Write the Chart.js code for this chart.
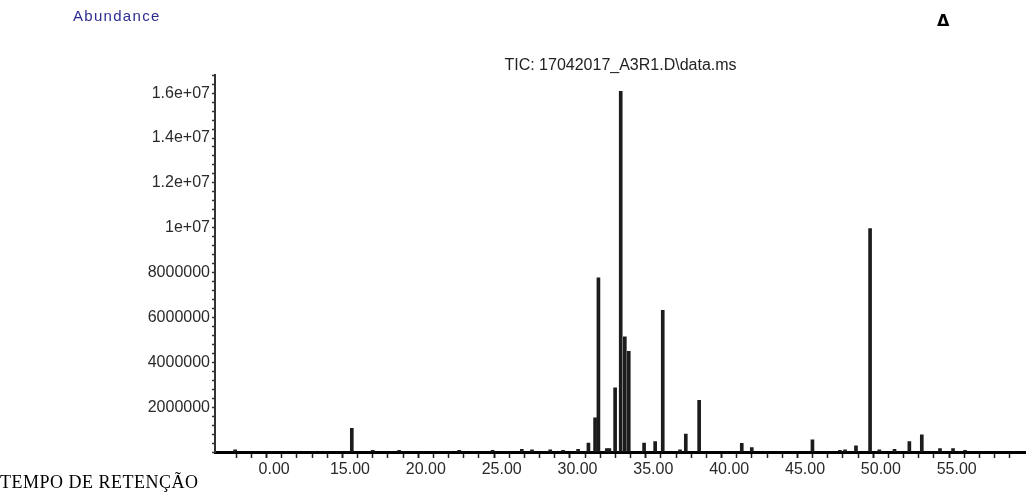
<!DOCTYPE html>
<html>
<head>
<meta charset="utf-8">
<script src="https://cdn.jsdelivr.net/npm/chart.js@4"></script>
<style>
    body { margin: 0; background: #fff; }
    #wrap { position: relative; width: 1026px; height: 497px; }
    #myChart { display: block; }
    .note { position: absolute; white-space: nowrap; }
    #abundance { left: 73px; top: 7px; font: 15px 'Liberation Sans', Arial, sans-serif; color: #2d2d90; letter-spacing: 1.3px; }
    #delta { left: 937px; top: 11px; font: bold 16px 'DejaVu Sans', sans-serif; color: #000; }
    #tempo { left: 0px; top: 472px; font: 18px 'Liberation Serif', 'Times New Roman', serif; color: #000; letter-spacing: 0.5px; }
</style>
</head>
<body>
<div id="wrap">
    <canvas id="myChart" width="1026" height="497"></canvas>
    <div class="note" id="abundance">Abundance</div>
    <div class="note" id="delta">Δ</div>
    <div class="note" id="tempo">TEMPO DE RETENÇÃO</div>
</div>
<script>
// retention time (min) of each peak and its abundance
const peakTimes = [
    7.43, 15.12, 16.5, 18.24, 22.2, 24.4, 26.33, 27.0, 28.2, 29.05,
    30.04, 30.72, 31.16, 31.38, 31.93, 32.1, 32.48, 32.85, 33.12, 33.38,
    34.39, 35.12, 35.62, 36.76, 37.14, 38.02, 40.83, 41.49, 45.49, 47.3,
    47.64, 48.36, 49.29, 49.9, 50.9, 51.88, 52.7, 53.9, 54.76, 55.55
];
const peakHeights = [
    100000, 1050000, 80000, 80000, 80000, 80000, 120000, 100000, 100000, 80000,
    120000, 400000, 1520000, 7770000, 150000, 150000, 2860000, 16080000, 5140000, 4490000,
    400000, 460000, 6320000, 100000, 800000, 2300000, 390000, 200000, 540000, 80000,
    100000, 270000, 9960000, 100000, 120000, 460000, 760000, 150000, 150000, 80000
];

const xTickValues = [10, 15, 20, 25, 30, 35, 40, 45, 50, 55];
const xTickLabels = ['0.00', '15.00', '20.00', '25.00', '30.00', '35.00', '40.00', '45.00', '50.00', '55.00'];
const yTickValues = [2000000, 4000000, 6000000, 8000000, 10000000, 12000000, 14000000, 16000000];
const yTickLabels = ['2000000', '4000000', '6000000', '8000000', '1e+07', '1.2e+07', '1.4e+07', '1.6e+07'];

const points = peakTimes.map((t, i) => ({ x: t, y: peakHeights[i] }));

const tickFont = { family: "'Liberation Sans', Arial, sans-serif", size: 16 };

var ctx = document.getElementById('myChart').getContext('2d');
var myChart = new Chart(ctx, {
    type: 'bar',
    data: {
        datasets: [
            {
                label: 'TIC',
                data: points,
                backgroundColor: '#1c1c1c',
                barThickness: 3
            }
        ]
    },
    options: {
        responsive: false,
        animation: false,
        layout: { padding: 0 },
        scales: {
            x: {
                type: 'linear',
                min: 6.1,
                max: 59.57,
                offset: false,
                afterFit: (scale) => { scale.height = 45; },
                afterBuildTicks: (scale) => {
                    scale.ticks = scale.ticks.filter(t => Number.isInteger(t.value));
                },
                border: { display: true, color: '#000', width: 3 },
                grid: {
                    drawOnChartArea: false,
                    drawTicks: true,
                    tickLength: 6,
                    tickColor: '#222',
                    tickWidth: (c) => (c.tick && c.tick.value % 5 === 0 ? 2 : 1.5)
                },
                ticks: {
                    stepSize: 1,
                    autoSkip: false,
                    maxRotation: 0,
                    padding: 2,
                    color: '#2a2a2a',
                    font: tickFont,
                    callback: (v) => {
                        const i = xTickValues.indexOf(v);
                        return i >= 0 ? xTickLabels[i] : '';
                    }
                }
            },
            y: {
                min: 0,
                max: 16800000,
                afterFit: (scale) => { scale.width = 215; },
                border: { display: true, color: '#333', width: 2 },
                grid: {
                    drawOnChartArea: false,
                    drawTicks: true,
                    tickLength: 3,
                    tickColor: '#333',
                    tickWidth: 1.5
                },
                ticks: {
                    stepSize: 400000,
                    autoSkip: false,
                    padding: 2,
                    color: '#2a2a2a',
                    font: tickFont,
                    callback: (v) => {
                        const i = yTickValues.indexOf(v);
                        return i >= 0 ? yTickLabels[i] : '';
                    }
                }
            }
        },
        plugins: {
            legend: { display: false },
            tooltip: { enabled: false },
            title: {
                display: true,
                fullSize: false,
                text: 'TIC: 17042017_A3R1.D\\data.ms',
                color: '#222',
                font: { family: "'Liberation Sans', Arial, sans-serif", size: 16, weight: 'normal' },
                padding: { top: 56, bottom: 0 }
            }
        }
    }
});
</script>
</body>
</html>
